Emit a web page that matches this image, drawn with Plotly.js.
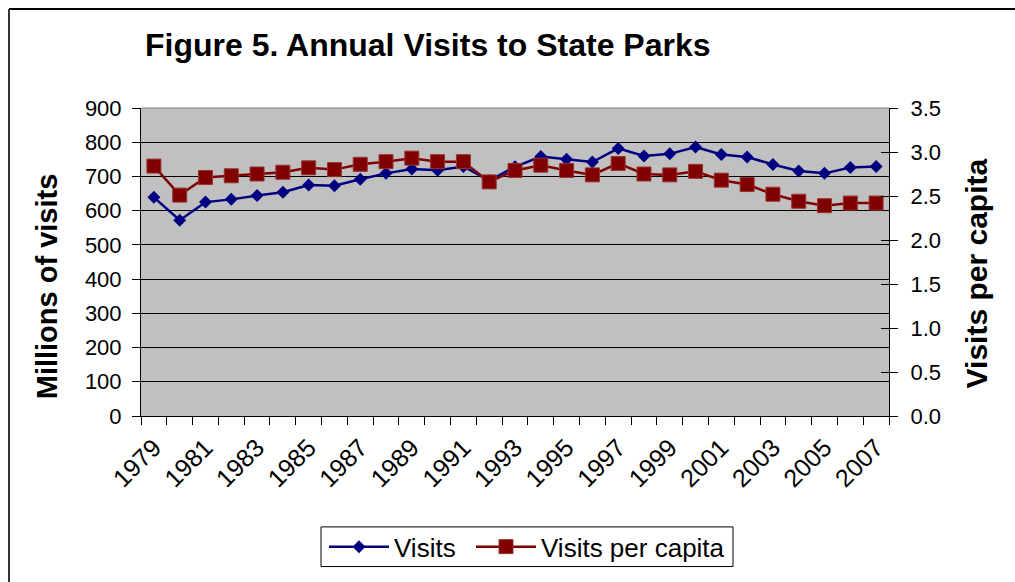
<!DOCTYPE html>
<html>
<head>
<meta charset="utf-8">
<script src="https://cdn.plot.ly/plotly-3.0.1.min.js"></script>
<style>
  html, body { margin: 0; padding: 0; background: #ffffff; overflow: hidden; width: 1015px; height: 582px; }
  #chart { width: 1015px; height: 582px; }
</style>
</head>
<body>
<div id="chart"></div>
<script>
// Annual state park attendance, 1979-2007
const years = ["1979","1980","1981","1982","1983","1984","1985","1986","1987","1988",
               "1989","1990","1991","1992","1993","1994","1995","1996","1997","1998",
               "1999","2000","2001","2002","2003","2004","2005","2006","2007"];

// Millions of visits
const visits = [639, 572, 625, 633, 644, 654, 675, 673, 692, 709,
                722, 718, 729, 688, 728, 758, 750, 742, 782, 760,
                766, 786, 764, 757, 735, 716, 709, 726, 729];

// Visits per capita
const visitsPerCapita = [2.84, 2.51, 2.71, 2.73, 2.75, 2.77, 2.82, 2.80, 2.86, 2.89,
                         2.93, 2.89, 2.89, 2.66, 2.79, 2.85, 2.79, 2.74, 2.87, 2.75,
                         2.74, 2.78, 2.68, 2.63, 2.52, 2.44, 2.39, 2.42, 2.42];

// Every other year is labelled on the category axis
const yearLabels = years.map((y, i) => (i % 2 === 0 ? y : ""));

const FONT = "'Liberation Sans', Arial, sans-serif";

// plot area in pixels: left 141, right 889, top 108, bottom 419
const PL = 141, PW = 748, PB = 419, PH = 311;
const px = v => (v - PL) / PW;
const py = v => (PB - v) / PH;

const traces = [
  // invisible companion so the helper axis carrying the inner ticks is drawn
  {
    x: years, y: visitsPerCapita, xaxis: "x", yaxis: "y3", type: "scatter",
    mode: "lines", line: { width: 0 }, hoverinfo: "skip", showlegend: false, opacity: 0
  },
  {
    x: years, y: visits, name: "Visits", type: "scatter", mode: "lines+markers",
    line: { color: "#000080", width: 2.5 },
    marker: { symbol: "diamond", size: 10, color: "#000080" },
    xaxis: "x", yaxis: "y", legend: "legend"
  },
  {
    x: years, y: visitsPerCapita, name: "Visits per capita", type: "scatter", mode: "lines+markers",
    line: { color: "#800000", width: 2.5 },
    marker: { symbol: "square", size: 14, color: "#800000", line: { color: "#993333", width: 1 } },
    xaxis: "x", yaxis: "y2", legend: "legend2"
  }
];

const legendCommon = {
  orientation: "h", xanchor: "left", yanchor: "middle",
  y: py(551),
  borderwidth: 0, bgcolor: "rgba(0,0,0,0)",
  font: { family: FONT, size: 26, color: "#000000" },
  itemwidth: 60
};

const layout = {
  width: 1015, height: 582,
  margin: { l: 141, r: 126, t: 108, b: 163, pad: 0 },
  paper_bgcolor: "#ffffff",
  plot_bgcolor: "#c0c0c0",
  font: { family: FONT, color: "#000000", size: 22 },
  showlegend: true,
  title: {
    text: "Figure 5. Annual Visits to State Parks",
    font: { family: FONT, size: 32, weight: 700, color: "#000000" },
    xref: "container", yref: "container",
    x: 145 / 1015, xanchor: "left",
    y: 1 - 45 / 582, yanchor: "middle"
  },
  xaxis: {
    type: "category",
    range: [-0.5, years.length - 0.5],
    tickmode: "array", tickvals: years, ticktext: yearLabels,
    tickson: "boundaries",
    ticks: "outside", ticklen: 8, tickwidth: 1, tickcolor: "#000000",
    tickangle: -45,
    ticklabelstandoff: 6,
    tickfont: { family: FONT, size: 25 },
    showgrid: false, zeroline: false,
    showline: true, linecolor: "#000000", linewidth: 1,
    automargin: false
  },
  yaxis: {
    range: [0, 900], tickmode: "linear", tick0: 0, dtick: 100,
    ticks: "outside", ticklen: 8, tickcolor: "#000000",
    ticklabelstandoff: 6,
    tickfont: { family: FONT, size: 22 },
    showgrid: true, gridcolor: "#000000", gridwidth: 1,
    zeroline: false,
    showline: true, linecolor: "#000000", linewidth: 1,
    automargin: false
  },
  yaxis2: {
    overlaying: "y", side: "right",
    range: [0, 3.5], tickmode: "linear", tick0: 0, dtick: 0.5,
    tickformat: ".1f",
    ticks: "outside", ticklen: 8, tickcolor: "#000000",
    ticklabelstandoff: 8,
    tickfont: { family: FONT, size: 22 },
    showgrid: false, zeroline: false,
    showline: true, linecolor: "#000000", linewidth: 1,
    automargin: false
  },
  // inner half of the cross-style ticks on the right axis
  yaxis3: {
    overlaying: "y", side: "right", anchor: "x",
    range: [0, 3.5], tickmode: "linear", tick0: 0, dtick: 0.5,
    ticks: "inside", ticklen: 8, tickcolor: "#000000",
    showticklabels: false, showgrid: false, zeroline: false, showline: false,
    automargin: false
  },
  legend: Object.assign({}, legendCommon, { x: px(324) }),
  legend2: Object.assign({}, legendCommon, { x: px(471) }),
  annotations: [
    {
      text: "<b>Millions of visits</b>", textangle: -90,
      xref: "paper", yref: "paper",
      x: px(47), y: py(288),
      xanchor: "center", yanchor: "middle", showarrow: false,
      font: { family: FONT, size: 29, color: "#000000" }
    },
    {
      text: "<b>Visits per capita</b>", textangle: -90,
      xref: "paper", yref: "paper",
      x: px(976), y: py(275),
      xanchor: "center", yanchor: "middle", showarrow: false,
      font: { family: FONT, size: 30, color: "#000000" }
    }
  ],
  shapes: [
    // gray upper edge of the plot area
    { type: "line", xref: "paper", yref: "paper", x0: 0, x1: 1, y0: 1, y1: 1,
      line: { color: "#808080", width: 1 }, layer: "above" },
    // legend box
    { type: "rect", xref: "paper", yref: "paper",
      x0: px(321), x1: px(733), y0: py(571), y1: py(531),
      line: { color: "#000000", width: 1 }, fillcolor: "#ffffff", layer: "below" },
    // outer chart frame: top and left edges
    { type: "line", xref: "paper", yref: "paper",
      x0: px(9), x1: px(1040), y0: py(8), y1: py(8),
      line: { color: "#000000", width: 2 }, layer: "above" },
    { type: "line", xref: "paper", yref: "paper",
      x0: px(9), x1: px(9), y0: py(8), y1: py(620),
      line: { color: "#333333", width: 2 }, layer: "above" }
  ]
};

Plotly.newPlot("chart", traces, layout, { displayModeBar: false, staticPlot: true });
</script>
</body>
</html>
